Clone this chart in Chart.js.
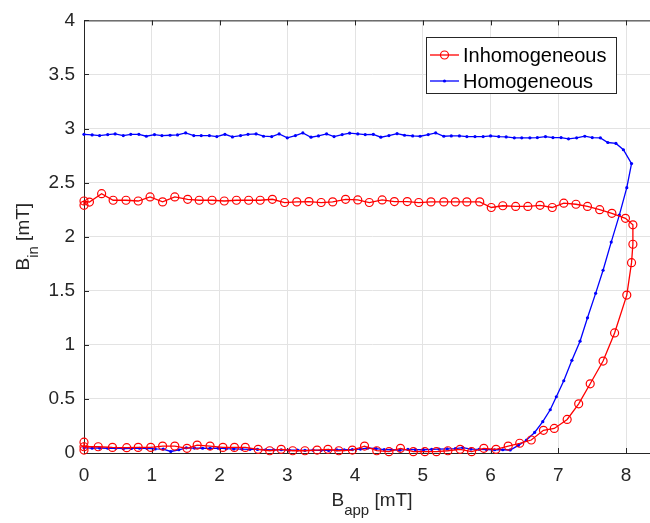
<!DOCTYPE html>
<html>
<head>
<meta charset="utf-8">
<script src="https://cdn.jsdelivr.net/npm/chart.js@4"></script>
<style>
  html, body { margin: 0; padding: 0; background: #fff; overflow: hidden; }
  #wrap { width: 650px; height: 523px; overflow: hidden; }
</style>
</head>
<body>
<div id="wrap"><canvas id="chart" width="670" height="523"></canvas></div>
<script>
// Inhomogeneous (red circles), in measurement order: lower branch out, up the right side, upper branch back
const inhX = [0, 0, 0, 0.21, 0.42, 0.63, 0.80, 0.985, 1.16, 1.34, 1.52, 1.67, 1.86, 2.05, 2.22, 2.38, 2.57, 2.74, 2.91, 3.08,
  3.26, 3.44, 3.60, 3.76, 3.96, 4.14, 4.32, 4.50, 4.67, 4.86, 5.03, 5.20, 5.37, 5.55, 5.72, 5.90, 6.08, 6.26, 6.43, 6.60,
  6.78, 6.94, 7.13, 7.30, 7.47, 7.66, 7.83, 8.01, 8.08, 8.10, 8.10,
  7.99, 7.79, 7.61, 7.43, 7.26, 7.08, 6.91, 6.73, 6.55, 6.37, 6.18, 6.01, 5.84, 5.65, 5.48, 5.31, 5.12, 4.94, 4.77, 4.58,
  4.40, 4.21, 4.04, 3.86, 3.67, 3.50, 3.32, 3.14, 2.96, 2.78, 2.60, 2.43, 2.25, 2.07, 1.89, 1.70, 1.53, 1.34, 1.16, 0.975,
  0.80, 0.62, 0.43, 0.26, 0.08, 0, 0];
const inhY = [0.10, 0.027, 0.058, 0.058, 0.052, 0.049, 0.052, 0.052, 0.064, 0.064, 0.043, 0.073, 0.064, 0.052, 0.052, 0.052, 0.034, 0.021, 0.034, 0.021,
  0.021, 0.027, 0.034, 0.021, 0.027, 0.064, 0.021, 0.012, 0.043, 0.012, 0.012, 0.012, 0.021, 0.034, 0.012, 0.043, 0.034, 0.064, 0.09, 0.12,
  0.21, 0.227, 0.31, 0.455, 0.64, 0.85, 1.11, 1.46, 1.76, 1.93, 2.11,
  2.17, 2.216, 2.25, 2.28, 2.30, 2.31, 2.27, 2.29, 2.28, 2.28, 2.286, 2.27, 2.322, 2.322, 2.322, 2.322, 2.322, 2.316, 2.325, 2.325,
  2.34, 2.316, 2.34, 2.346, 2.322, 2.316, 2.325, 2.322, 2.316, 2.346, 2.337, 2.337, 2.337, 2.33, 2.337, 2.337, 2.346, 2.368, 2.322, 2.368,
  2.33, 2.337, 2.337, 2.398, 2.32, 2.33, 2.29];

// Homogeneous (blue dots): lower branch, rising part, upper branch (ascending x)
const homBottomX = [0, 0.12, 0.23, 0.35, 0.47, 0.58, 0.70, 0.82, 0.93, 1.05, 1.17, 1.28, 1.40, 1.51, 1.63, 1.75, 1.86, 1.98, 2.10, 2.21,
  2.33, 2.45, 2.56, 2.68, 2.80, 2.91, 3.03, 3.15, 3.26, 3.38, 3.50, 3.61, 3.73, 3.84, 3.96, 4.08, 4.19, 4.31, 4.43, 4.54,
  4.66, 4.78, 4.89, 5.01, 5.13, 5.24, 5.36, 5.48, 5.59, 5.71, 5.83, 5.94, 6.06, 6.18, 6.29];
const homBottomY = [0.048, 0.045, 0.046, 0.044, 0.045, 0.040, 0.042, 0.044, 0.042, 0.038, 0.036, 0.014, 0.030, 0.048, 0.046, 0.044, 0.042, 0.045, 0.040, 0.038,
  0.036, 0.034, 0.033, 0.030, 0.028, 0.030, 0.026, 0.027, 0.024, 0.026, 0.025, 0.024, 0.028, 0.030, 0.032, 0.036, 0.046, 0.040, 0.032, 0.030,
  0.026, 0.034, 0.032, 0.030, 0.034, 0.036, 0.038, 0.040, 0.050, 0.036, 0.034, 0.032, 0.030, 0.030, 0.028];
const homRiseX = [6.41, 6.53, 6.65, 6.77, 6.88, 6.97, 7.08, 7.20, 7.32, 7.43, 7.55, 7.66, 7.78, 7.90, 8.01];
const homRiseY = [0.07, 0.12, 0.19, 0.29, 0.40, 0.52, 0.668, 0.857, 1.034, 1.25, 1.476, 1.69, 1.95, 2.20, 2.453];
const homTopX = [0, 0.12, 0.23, 0.35, 0.46, 0.58, 0.69, 0.81, 0.92, 1.04, 1.15, 1.27, 1.38, 1.50, 1.62, 1.73, 1.85, 1.96, 2.08, 2.19,
  2.31, 2.42, 2.54, 2.65, 2.77, 2.88, 3.00, 3.12, 3.23, 3.35, 3.46, 3.58, 3.69, 3.81, 3.92, 4.04, 4.15, 4.27, 4.38, 4.50,
  4.62, 4.73, 4.85, 4.96, 5.08, 5.19, 5.31, 5.42, 5.54, 5.65, 5.77, 5.89, 6.00, 6.12, 6.23, 6.35, 6.46, 6.58, 6.69, 6.81,
  6.92, 7.04, 7.15, 7.27, 7.39, 7.50, 7.62, 7.73, 7.85, 7.96, 8.08];
const homTopY = [2.947, 2.941, 2.935, 2.944, 2.950, 2.935, 2.947, 2.947, 2.929, 2.944, 2.935, 2.938, 2.941, 2.960, 2.935, 2.935, 2.935, 2.926, 2.947, 2.923,
  2.935, 2.947, 2.950, 2.929, 2.926, 2.950, 2.914, 2.935, 2.960, 2.920, 2.932, 2.950, 2.926, 2.944, 2.957, 2.950, 2.944, 2.947, 2.920, 2.935,
  2.953, 2.938, 2.932, 2.929, 2.944, 2.960, 2.929, 2.932, 2.932, 2.926, 2.926, 2.926, 2.932, 2.926, 2.923, 2.914, 2.914, 2.914, 2.917, 2.926,
  2.917, 2.917, 2.905, 2.914, 2.929, 2.917, 2.914, 2.871, 2.862, 2.804, 2.676];

const xTitle = ['B', 'app', ' [mT]'];
const yTitle = ['B', 'in', ' [mT]'];
const seriesNames = ['Inhomogeneous', 'Homogeneous'];

const FONT = 'Arial, "Liberation Sans", Helvetica, sans-serif';
const INK = '#262626';

const pts = (xs, ys) => xs.map((x, i) => ({ x, y: ys[i] }));
const inhData = pts(inhX, inhY);
const homData = pts(homBottomX, homBottomY)
  .concat(pts(homRiseX, homRiseY))
  .concat(pts(homTopX, homTopY).reverse());

function drawSubTitle(ctx, parts, big, small, drop) {
  // draws text centred on 0,0 along the baseline, with the second part as a subscript
  ctx.font = big + 'px ' + FONT;
  const w0 = ctx.measureText(parts[0]).width;
  const w2 = ctx.measureText(parts[2]).width;
  ctx.font = small + 'px ' + FONT;
  const w1 = ctx.measureText(parts[1]).width;
  let x = -(w0 + w1 + w2) / 2;
  ctx.textBaseline = 'alphabetic';
  ctx.textAlign = 'left';
  ctx.font = big + 'px ' + FONT;
  ctx.fillText(parts[0], x, 0); x += w0;
  ctx.font = small + 'px ' + FONT;
  ctx.fillText(parts[1], x, drop); x += w1;
  ctx.font = big + 'px ' + FONT;
  ctx.fillText(parts[2], x, 0);
}

const matlabAxes = {
  id: 'matlabAxes',
  beforeDatasetsDraw(chart) {
    const { ctx, chartArea: a, scales: { x, y } } = chart;
    ctx.save();
    ctx.strokeStyle = INK;
    ctx.lineWidth = 1;
    ctx.beginPath();
    ctx.moveTo(a.left, a.top + 0.5); ctx.lineTo(a.right, a.top + 0.5);
    x.ticks.forEach(t => {
      const px = Math.round(x.getPixelForValue(t.value)) + 0.5;
      ctx.moveTo(px, a.bottom); ctx.lineTo(px, a.bottom - 5);
      ctx.moveTo(px, a.top); ctx.lineTo(px, a.top + 5);
    });
    y.ticks.forEach(t => {
      const py = Math.round(y.getPixelForValue(t.value)) + 0.5;
      ctx.moveTo(a.left, py); ctx.lineTo(a.left + 5, py);
    });
    ctx.stroke();
    ctx.restore();
  },
  afterDraw(chart) {
    const { ctx, chartArea: a } = chart;
    ctx.save();
    ctx.fillStyle = INK;
    // axis titles
    ctx.save();
    ctx.translate((a.left + a.right) / 2, 506);
    drawSubTitle(ctx, xTitle, 19, 15, 9);
    ctx.restore();
    ctx.save();
    ctx.translate(29, (a.top + a.bottom) / 2);
    ctx.rotate(-Math.PI / 2);
    drawSubTitle(ctx, yTitle, 19, 15, 9);
    ctx.restore();

    // legend box
    const bx = 426.5, by = 37.5, bw = 190, bh = 56;
    ctx.fillStyle = '#fff';
    ctx.fillRect(bx, by, bw, bh);
    ctx.strokeStyle = INK;
    ctx.lineWidth = 1;
    ctx.strokeRect(bx, by, bw, bh);
    chart.data.datasets.forEach((ds, i) => {
      const ly = 55 + i * 26;
      ctx.strokeStyle = ds.borderColor;
      ctx.lineWidth = ds.borderWidth;
      ctx.beginPath();
      ctx.moveTo(430, ly); ctx.lineTo(459, ly);
      ctx.stroke();
      ctx.beginPath();
      ctx.arc(444.5, ly, ds.pointRadius, 0, Math.PI * 2);
      if (ds.pointBackgroundColor !== 'transparent') {
        ctx.fillStyle = ds.pointBackgroundColor;
        ctx.fill();
      } else {
        ctx.lineWidth = ds.pointBorderWidth;
        ctx.stroke();
      }
      ctx.fillStyle = '#000';
      ctx.font = '20px ' + FONT;
      ctx.textAlign = 'left';
      ctx.textBaseline = 'middle';
      ctx.fillText(ds.label, 463, ly + 1);
    });
    ctx.restore();
  }
};

new Chart(document.getElementById('chart'), {
  type: 'scatter',
  data: {
    datasets: [
      {
        label: seriesNames[0],
        data: inhData,
        showLine: true,
        borderColor: '#ff0000',
        borderWidth: 1.3,
        pointRadius: 4,
        pointBorderWidth: 1.2,
        pointBorderColor: '#ff0000',
        pointBackgroundColor: 'transparent',
        clip: false
      },
      {
        label: seriesNames[1],
        data: homData,
        showLine: true,
        borderColor: '#0000ff',
        borderWidth: 1.3,
        pointRadius: 1.6,
        pointBorderWidth: 0,
        pointBorderColor: '#0000ff',
        pointBackgroundColor: '#0000ff',
        clip: false
      }
    ]
  },
  options: {
    responsive: false,
    animation: false,
    layout: { padding: { top: 15, right: 10, left: 0, bottom: 0 } },
    plugins: { legend: { display: false }, tooltip: { enabled: false } },
    scales: {
      x: {
        type: 'linear', min: 0, max: 8.5,
        afterFit: s => { s.height = 70; },
        ticks: { stepSize: 1, includeBounds: false, color: INK, padding: 11, maxRotation: 0, font: { size: 19, family: FONT }, callback: v => String(v) },
        grid: { color: '#e3e3e3', drawTicks: false },
        border: { color: INK, width: 1 }
      },
      y: {
        type: 'linear', min: 0, max: 4,
        afterFit: s => { s.width = 84; },
        ticks: { stepSize: 0.5, color: INK, padding: 9, font: { size: 19, family: FONT }, callback: v => String(v) },
        grid: { color: '#e3e3e3', drawTicks: false },
        border: { color: INK, width: 1 }
      }
    }
  },
  plugins: [matlabAxes]
});
</script>
</body>
</html>
